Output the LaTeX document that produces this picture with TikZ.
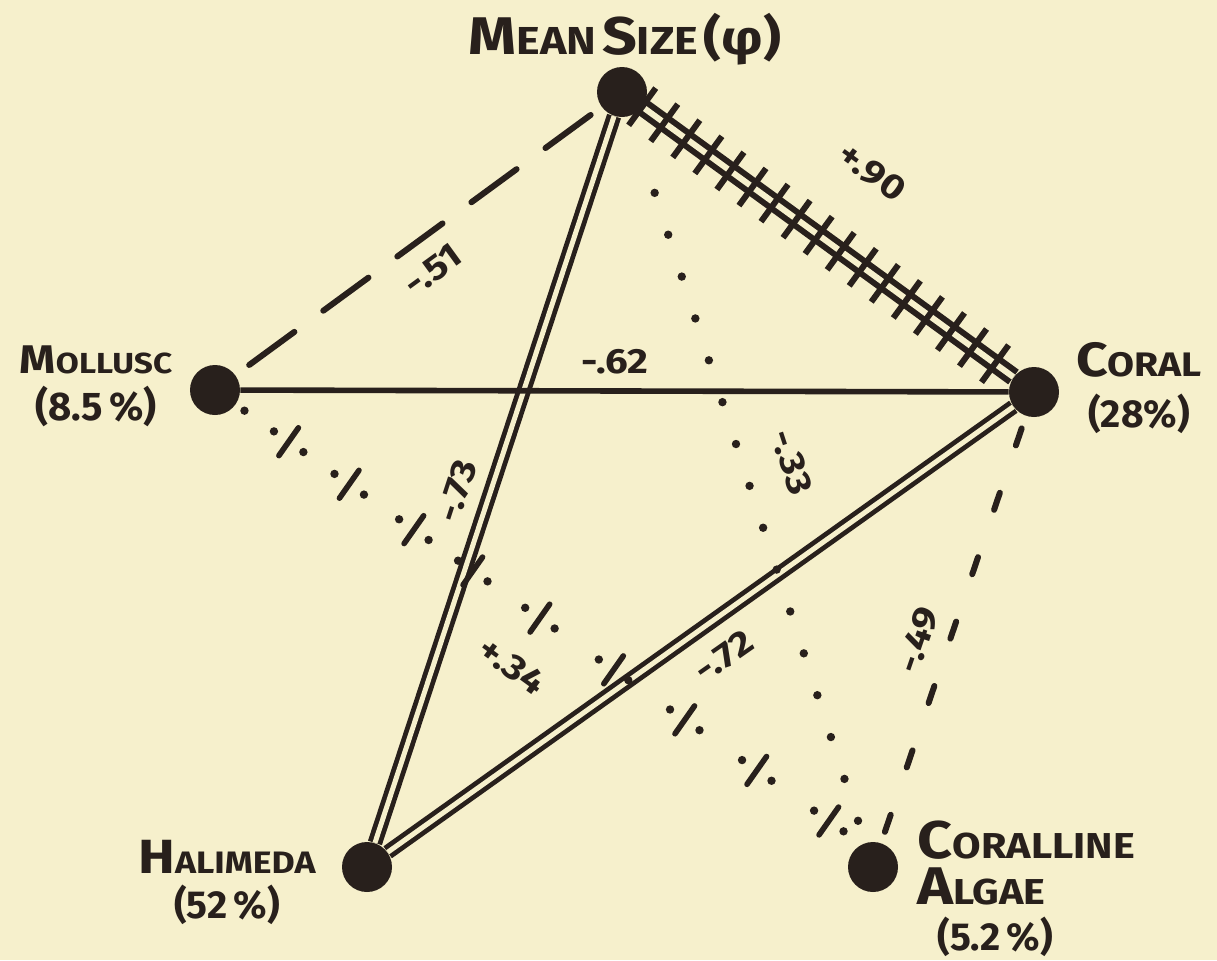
\documentclass[tikz,border=0pt]{standalone}
\usepackage{fontspec}
\setmainfont{Fira Sans}
\newfontfamily\hand[FakeStretch=1.15]{Fira Sans}
\usetikzlibrary{calc}
\definecolor{paper}{RGB}{246,240,204}
\definecolor{ink}{RGB}{40,32,28}
\newcommand\fs[1]{\fontsize{#1}{#1}\selectfont}
\begin{document}
\begin{tikzpicture}[x=0.5pt,y=-0.5pt,
  dot/.style={circle,fill=ink,draw=none,minimum size=25pt,inner sep=0pt},
  lab/.style={text=ink,inner sep=0pt,font=\bfseries},
  elab/.style={text=ink,inner sep=0pt,font=\hand\bfseries\fontsize{17.5}{17.5}\selectfont},
  solidln/.style={draw=ink,line width=2.8pt},
  dbl/.style={draw=ink,double=paper,line width=2.4pt,double distance=2.5pt},
  rail/.style={draw=ink,double=paper,line width=3pt,double distance=3pt},
  tickln/.style={draw=ink,line width=3pt},
  slashln/.style={draw=ink,line width=2.8pt,line cap=round},
  longdash/.style={draw=ink,line width=3pt,line cap=round,dash pattern=on 28pt off 17.9pt,dash phase=37.4pt},
  shortdash/.style={draw=ink,line width=3pt,line cap=round,dash pattern=on 9pt off 25pt,dash phase=27.5pt},
]
\fill[paper] (0,0) rectangle (1217,960);
\useasboundingbox (0,0) rectangle (1217,960);

% points
\node[dot] (ms) at (622,92) {};
\node[dot] (mo) at (215,390) {};
\node[dot] (co) at (1034,392) {};
\node[dot] (ha) at (367,867) {};
\node[dot] (ca) at (873,867) {};
\coordinate (caT) at ($(ca)+(0,-15)$);

% node labels
\node[lab,anchor=north] (tms) at (625,13) {\hand{\fs{26.5}M}{\fs{19.5}EAN} {\fs{26.5}S}{\fs{19.5}IZE} {\fs{24}(φ)}};
\node[lab,anchor=north,align=center,font=\bfseries\fontsize{20}{23.5}\selectfont] (tmo) at (96,345)
  {\hand{\fs{20}M}{\fs{14.5}OLLUSC}\\(8.5\,\%)};
\node[lab,anchor=north,align=center,font=\bfseries\fontsize{19.5}{25.5}\selectfont] (tco) at (1139,342)
  {\hand{\fs{24}C}{\fs{17}ORAL}\\(28\%)};
\node[lab,anchor=north,align=center,font=\bfseries\fontsize{19.5}{22.5}\selectfont] (tha) at (227,840)
  {\hand{\fs{24}H}{\fs{15.5}ALIMEDA}\\(52\,\%)};
\node[lab,anchor=north west,align=left,font=\bfseries\fontsize{19.5}{23}\selectfont] (tca) at (917,820)
  {\hand{\fs{26.5}C}{\fs{18}ORALLINE}\\\hand{\fs{26.5}A}{\fs{18}LGAE}\\\hspace*{10pt}(5.2\,\%)};

% connectors
\draw[longdash] (mo) -- (ms);
\draw[rail] (ms) -- (co);
\foreach \k in {0,...,16}{
  \path ($(ms)!{(25+27.3*\k)/510}!(co)$) coordinate (t);
  \draw[tickln] ($(t)!11.5pt!90:(co)$) -- ($(t)!11.5pt!-90:(co)$);
}
\draw[dbl] (ms) -- (ha);
\draw[dbl] (co) -- (ha);
\draw[solidln] (mo) -- (co);
\draw[shortdash] (co) -- (ca);
% dotted mean size - coralline algae
\foreach \k in {0,...,15}
  \fill[ink] ($(ms)!{(106+44*\k)/814.6}!(ca)$) circle (2.1pt);
% dot-slash-dot mollusc - coralline algae
\fill[ink] ($(mo)!{36/804}!(caT)$) circle (2.1pt);
\foreach \p in {90,164,243,315,397,487,574,662,750}{
  \path ($(mo)!{\p/804}!(caT)$) coordinate (q);
  \draw[slashln] ($(q)!8.5pt!90:(caT)$) -- ($(q)!8.5pt!-90:(caT)$);
  \fill[ink] ($(q)!-9pt!(caT)$) circle (2.1pt);
  \fill[ink] ($(q)!9pt!(caT)$) circle (2.1pt);
}

% edge labels
\node[elab,rotate=36] (l51) at (433,270) {-.51};
\node[elab,rotate=-36] (l90) at (872,172) {+.90};
\node[elab] (l62) at (615,362) {-.62};
\node[elab,rotate=72] (l73) at (457,491) {-.73};
\node[elab,rotate=-72] (l33) at (792,462) {-.33};
\node[elab,rotate=-36] (l34) at (512,666) {+.34};
\node[elab,rotate=35] (l72) at (724,656) {-.72};
\node[elab,rotate=71] (l49) at (918,640) {-.49};
\end{tikzpicture}
\end{document}
